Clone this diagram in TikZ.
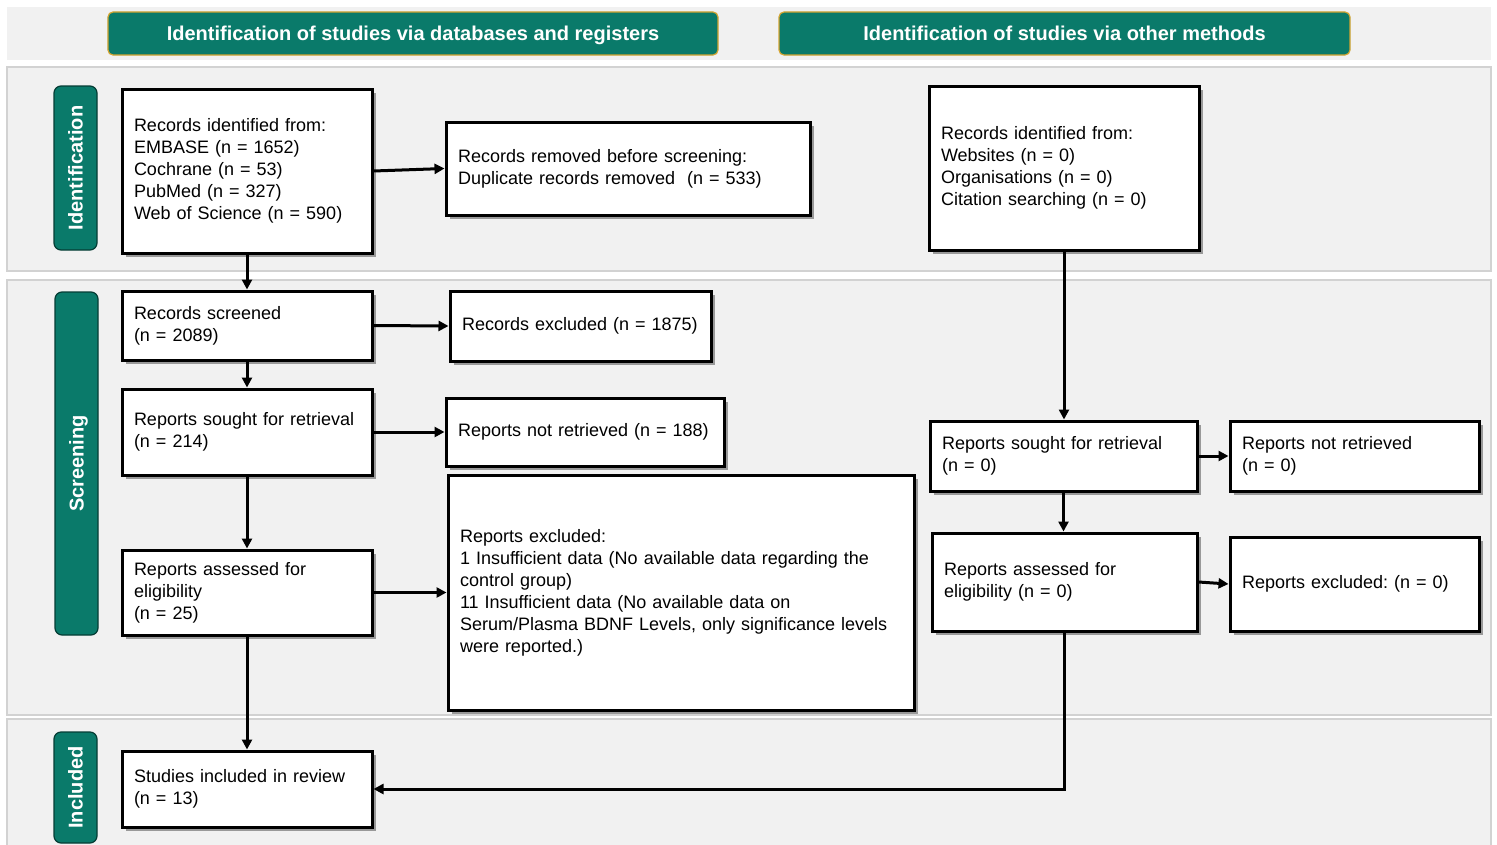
\documentclass[tikz,border=0pt]{standalone}
\usepackage{fontspec}
\setmainfont{Liberation Sans}
\usetikzlibrary{arrows.meta}
\frenchspacing
\definecolor{teal1}{HTML}{0A7A6A}
\definecolor{gold1}{HTML}{D4A531}
\definecolor{bandfill}{HTML}{F1F1F1}
\definecolor{bandline}{HTML}{D2D2D2}
\tikzset{
  band/.style={fill=bandfill, draw=bandline, line width=1.5bp},
  header/.style={fill=teal1, draw=gold1, line width=1.2bp, rounded corners=5bp,
    text=white, font=\fontsize{20bp}{24bp}\selectfont\bfseries, inner sep=0pt,
    text height=14bp, text depth=0pt},
  sidelab/.style={fill=teal1, draw=teal1!50!black, line width=1.2bp, rounded corners=7bp,
    text=white, font=\fontsize{20bp}{24bp}\selectfont\bfseries, rotate=90, inner sep=0pt,
    text height=14bp, text depth=0pt},
  box/.style={draw=black, fill=white, line width=3bp, align=left, inner xsep=12bp, inner ysep=0pt,
    font=\fontsize{18bp}{22bp}\selectfont,
    preaction={fill=black!40, transform canvas={xshift=3.5bp,yshift=-3.5bp}}},
  arr/.style={line width=3bp, -{Triangle[length=10bp,width=10bp]}},
}
\newcommand{\bx}[6]{% name, cx, cy, w, h, text
  \node[box, minimum width=#4bp, minimum height=#5bp, text width=#4bp-24bp] (#1) at (#2,#3) {#6};}
\begin{document}
\begin{tikzpicture}[x=1bp,y=-1bp]
\clip (0,0) rectangle (1497,844);
\fill[white] (0,0) rectangle (1497,844);
% bands
\fill[bandfill] (7,7) rectangle (1491,60);
\draw[band] (7,67) rectangle (1491,271);
\draw[band] (7,280) rectangle (1491,715);
\draw[band] (7,719) rectangle (1491,860);
% headers
\node[header, minimum width=610bp, minimum height=43bp] (h1) at (413,33.5) {Identification of studies via databases and registers};
\node[header, minimum width=571bp, minimum height=43bp] (h2) at (1064.5,33.5) {Identification of studies via other methods};
% side labels
\node[sidelab, minimum width=164bp, minimum height=43bp] (s1) at (75.5,168) {Identification};
\node[sidelab, minimum width=343bp, minimum height=43bp] (s2) at (76.5,463.5) {Screening};
\node[sidelab, minimum width=111bp, minimum height=43bp] (s3) at (75.5,787.5) {Included};
% boxes
\bx{A}{247}{171}{250}{164}{Records identified from:\\EMBASE (n = 1652)\\Cochrane (n = 53)\\PubMed (n = 327)\\Web of Science (n = 590)}
\bx{B}{628}{168.5}{364}{93}{Records removed before screening:\\Duplicate records removed\ \ (n = 533)}
\bx{C}{247}{325.5}{250}{69}{Records screened\\(n = 2089)}
\bx{D}{580.5}{326}{261}{70}{\mbox{Records excluded (n = 1875)}}
\bx{E}{247}{432}{250}{86}{Reports sought for retrieval\\(n = 214)}
\bx{F}{585}{432}{278}{68}{Reports not retrieved (n = 188)}
\bx{G}{247}{592.5}{250}{85}{Reports assessed for\\eligibility\\(n = 25)}
\bx{H}{681}{592.5}{466}{235}{Reports excluded:\\1 Insufficient data (No available data regarding the\\control group)\\11 Insufficient data (No available data on\\\mbox{Serum/Plasma BDNF Levels, only significance levels}\\were reported.)}
\bx{I}{247}{789}{250}{76}{Studies included in review\\(n = 13)}
\bx{J}{1064}{168}{270}{164}{Records identified from:\\Websites (n = 0)\\Organisations (n = 0)\\Citation searching (n = 0)}
\bx{K}{1063.5}{456}{267}{70}{Reports sought for retrieval\\(n = 0)}
\bx{L}{1354.5}{456}{249}{70}{Reports not retrieved\\(n = 0)}
\bx{M}{1064.5}{582}{265}{98}{Reports assessed for\\eligibility (n = 0)}
\bx{N}{1354.5}{584}{249}{94}{Reports excluded: (n = 0)}
% connectors
\draw[arr] (A.east) -- (B.west);
\draw[arr] (A.south) -- (C.north);
\draw[arr] (C.east) -- (D.west);
\draw[arr] (C.south) -- (E.north);
\draw[arr] (E.east) -- (F.west);
\draw[arr] (E.south) -- (G.north);
\draw[arr] (G.east) -- (H.west);
\draw[arr] (G.south) -- (I.north);
\draw[arr] (J.south) -- (J.south |- K.north);
\draw[arr] (K.east) -- (K.east -| L.west);
\draw[arr] (K.south) -- (K.south |- M.north);
\draw[arr] (M.east) -- (N.west);
\draw[arr] (M.south) |- (I.east);
\end{tikzpicture}
\end{document}
